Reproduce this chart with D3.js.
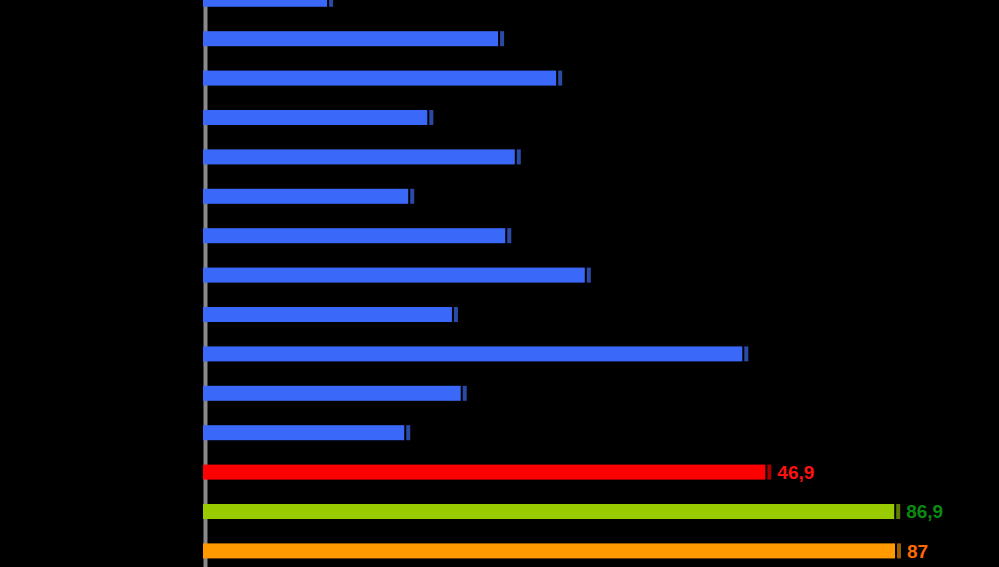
<!DOCTYPE html>
<html>
<head>
<meta charset="utf-8">
<script src="https://cdn.jsdelivr.net/npm/d3@7"></script>
<style>
  html, body { margin: 0; padding: 0; background: #000; }
  svg { display: block; }
</style>
</head>
<body>
<div id="chart"></div>
<script>
// categories (row labels are not readable in the picture, so only keys)
const categories = ['r1', 'r2', 'r3', 'r4', 'r5', 'r6', 'r7', 'r8',
                    'r9', 'r10', 'r11', 'r12', 'r13', 'r14', 'r15'];
const values = [15.6, 37.1, 44.4, 28.2, 39.2, 25.8, 38.0, 48.0,
                31.3, 67.8, 32.4, 25.3, 70.7, 86.9, 87];
// value labels shown only on the last three rows
const valueLabels = { r13: '46,9', r14: '86,9', r15: '87' };

const W = 999, H = 567;

// fill / end cap / label colours
const blue = { fill: '#3a68f8', cap: '#2b4aa6' };
const special = {
  r13: { fill: '#ff0000', cap: '#a40000', text: '#ff1010' },
  r14: { fill: '#99cc00', cap: '#5f7d00', text: '#0a8a10' },
  r15: { fill: '#ff9a00', cap: '#9a5c00', text: '#ff6a00' }
};
const style = k => special[k] || blue;

const data = categories.map((c, i) => ({ cat: c, val: values[i] }));

const svg = d3.select('#chart').append('svg')
  .attr('width', W)
  .attr('height', H)
  .style('background', '#000');

const x = d3.scaleLinear()
  .domain([0, 87])
  .range([203, 895]);

// top of the chart is cropped off, hence the negative start
const y = d3.scaleBand()
  .domain(categories)
  .range([-32.6, 582.8])
  .padding(0.619);

// grey axis line behind the bars
svg.append('line')
  .attr('x1', x(0) + 2.5).attr('x2', x(0) + 2.5)
  .attr('y1', 0).attr('y2', H)
  .attr('stroke', '#8a8a8a')
  .attr('stroke-width', 4);

svg.selectAll('rect.bar')
  .data(data)
  .join('rect')
    .attr('class', 'bar')
    .attr('x', x(0))
    .attr('y', d => y(d.cat))
    .attr('width', d => x(d.val) - x(0))
    .attr('height', y.bandwidth())
    .attr('fill', d => style(d.cat).fill);

// small darker cap after each bar
svg.selectAll('rect.cap')
  .data(data)
  .join('rect')
    .attr('class', 'cap')
    .attr('x', d => x(d.val) + 2)
    .attr('y', d => y(d.cat))
    .attr('width', 4)
    .attr('height', y.bandwidth())
    .attr('fill', d => style(d.cat).cap);

svg.selectAll('text.val')
  .data(data.filter(d => valueLabels[d.cat]))
  .join('text')
    .attr('class', 'val')
    .attr('x', d => x(d.val) + 12)
    .attr('y', d => y(d.cat) + y.bandwidth() / 2)
    .attr('dy', '0.35em')
    .attr('fill', d => style(d.cat).text)
    .style('font-family', '"Liberation Sans", Arial, sans-serif')
    .style('font-weight', 'bold')
    .style('font-size', '19px')
    .text(d => valueLabels[d.cat]);
</script>
</body>
</html>
